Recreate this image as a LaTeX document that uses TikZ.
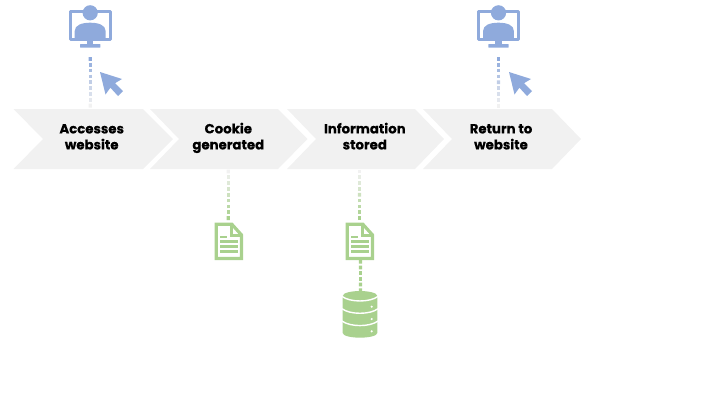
\documentclass[tikz,border=0pt]{standalone}
\usepackage{fontspec}
\setmainfont{Poppins}[BoldFeatures={FakeBold=0.35}]
\usetikzlibrary{calc}
\definecolor{chev}{HTML}{F1F1F1}
\definecolor{iblue}{HTML}{8FAADC}
\definecolor{igreen}{HTML}{A9D18E}
\tikzset{
  x=1pt,y=-1pt,
  chevron/.style={fill=chev,draw=none},
  label/.style={font=\fontsize{13.3}{16}\selectfont\bfseries,align=center,text=black,inner sep=0pt},
  monitor/.pic={
    \draw[iblue,line width=3pt,line join=round] (-20,-0.6) rectangle (20.4,27.4);
    \fill[iblue] (-3,28) rectangle (3.4,33);
    \fill[iblue,rounded corners=0.5pt] (-10,32) rectangle (10.4,35.6);
    \fill[iblue] (-15.3,26) -- (-15.3,19) .. controls (-15.3,13) and (-8,10.7) .. (0.2,10.7) .. controls (8.4,10.7) and (15.6,13) .. (15.6,19) -- (15.6,26) -- cycle;
    \fill[iblue] (0.2,0.8) circle (7.6);
  },
  pointer/.pic={
    \fill[iblue,line join=round] (0,0) -- (22,7) -- (15,11.2) -- (23,19) -- (18,24) -- (10.4,15.7) -- (5.5,22.5) -- cycle;
  },
  document/.pic={
    \draw[igreen,line width=3.2pt,line join=miter] (-12.6,-16.3) -- (3,-16.3) -- (12.7,-5.5) -- (12.7,18) -- (-12.6,18) -- cycle;
    \draw[igreen,line width=3pt] (3,-16.3) -- (3,-5.5) -- (12.7,-5.5);
    \fill[igreen] (-8.5,-5) rectangle (-2.3,-2.6);
    \foreach \yy in {-0.2,4.8,9.6} \fill[igreen] (-8.5,\yy) rectangle (9.5,\yy+2.6);
  },
  database/.pic={
    \fill[igreen] (-17.3,-10) .. controls (-17.3,-13.3) and (-8,-15) .. (0,-15) .. controls (8,-15) and (17.3,-13.3) .. (17.3,-10) -- (17.3,27) .. controls (17.3,30) and (8,31.7) .. (0,31.7) .. controls (-8,31.7) and (-17.3,30) .. (-17.3,27) -- cycle;
    \foreach \yy in {0,12.3,24.6}{
      \draw[white,line width=1.4pt] (-18,-9.6+\yy) .. controls (-10,-3.5+\yy) and (10,-3.5+\yy) .. (18,-9.6+\yy);
      \fill[white] (11.7,0.7+\yy) circle (1.2);
    }
  }
}
% dotted connector whose dots fade from colour #3 at #1 to colour #4 at #2; #5 = dots
\newcommand{\fadeline}[5]{%
  \foreach \i in {1,...,#5}{%
    \pgfmathsetmacro{\pc}{100*(\i-1)/(#5-1)}%
    \pgfmathsetmacro{\ta}{(\i-1)/(#5-0.35)}%
    \pgfmathsetmacro{\tb}{(\i-0.35)/(#5-0.35)}%
    \draw[line width=3.2pt,draw={#4!\pc!#3}] ($(#1)!\ta!(#2)$) -- ($(#1)!\tb!(#2)$);
  }%
}
\begin{document}
\begin{tikzpicture}
\useasboundingbox (0,0) rectangle (720,405);
% chevrons
\fill[chevron] (13.5,109) -- (143,109) -- (173,139) -- (143,169) -- (13.5,169) -- (43,139) -- cycle;
\fill[chevron] (150,109) -- (278,109) -- (307.5,139) -- (278,169) -- (150,169) -- (179,139) -- cycle;
\fill[chevron] (287,109) -- (415,109) -- (444,139) -- (415,169) -- (287,169) -- (316,139) -- cycle;
\fill[chevron] (423,109) -- (552,109) -- (581,139) -- (552,169) -- (423,169) -- (452,139) -- cycle;
\node[label] (n1) at (91.7,138.2) {\strut Accesses\\\strut website};
\node[label] (n2) at (228.3,138.2) {\strut Cookie\\\strut generated};
\node[label] (n3) at (364.8,138.2) {\strut Information\\\strut stored};
\node[label] (n4) at (501,138.2) {\strut Return to\\\strut website};
% anchors
\coordinate (a1) at (90.3,57);
\coordinate (b1) at (90.3,107.5);
\coordinate (a4) at (498.5,57);
\coordinate (b4) at (498.5,107.5);
\coordinate (a2) at (228.3,220);
\coordinate (b2) at (228.3,169.5);
\coordinate (a3) at (359.5,220);
\coordinate (b3) at (359.5,169.5);
\coordinate (c3) at (360.5,260);
\coordinate (d3) at (360.5,292);
% connectors
\fadeline{a1}{b1}{iblue}{chev}{9}
\fadeline{a4}{b4}{iblue}{chev}{9}
\fadeline{a2}{b2}{igreen}{chev}{9}
\fadeline{a3}{b3}{igreen}{chev}{9}
\fadeline{c3}{d3}{igreen}{igreen}{6}
% icons
\pic at (90,12) {monitor};
\pic at (498.3,12) {monitor};
\pic at (100,72) {pointer};
\pic at (509,72) {pointer};
\pic at (228.8,240.5) {document};
\pic at (359.8,240.5) {document};
\pic at (360,306) {database};
\end{tikzpicture}
\end{document}
